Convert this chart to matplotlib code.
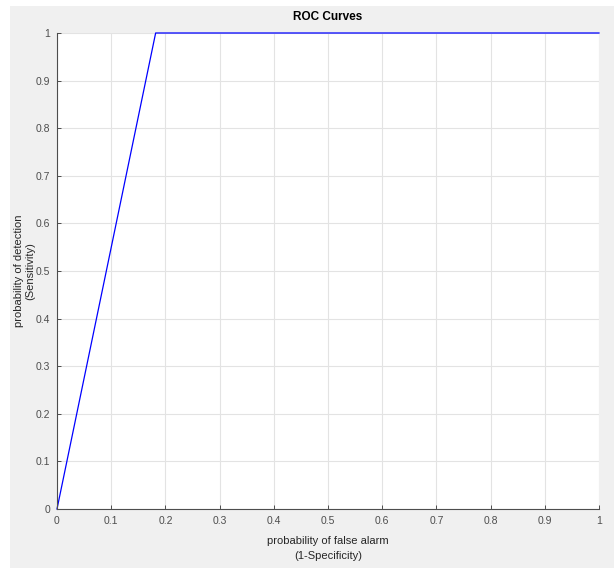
import numpy as np
import matplotlib.pyplot as plt
from matplotlib.patches import Rectangle

# curva ROC
fpr = [0.0, 0.182, 1.0]
tpr = [0.0, 1.0, 1.0]
ticks = np.arange(0, 1.01, 0.1)
tick_labels = ['0', '0.1', '0.2', '0.3', '0.4', '0.5', '0.6', '0.7', '0.8', '0.9', '1']

plt.rcParams['font.family'] = ['Liberation Sans', 'DejaVu Sans']

fig = plt.figure(figsize=(6.14, 5.68), dpi=100)
# fondo gris tipo MATLAB
fig.add_artist(Rectangle((10 / 614, 0), 1, 1 - 6 / 568, transform=fig.transFigure,
                         facecolor='#f0f0f0', edgecolor='none', zorder=-5))

ax = fig.add_axes([57 / 614, 59 / 568, 542 / 614, 476 / 568])
ax.plot(fpr, tpr, color='#0000ff', lw=0.9, clip_on=False)

ax.set_xlim(0, 1)
ax.set_ylim(0, 1)
ax.set_xticks(ticks)
ax.set_xticklabels(tick_labels)
ax.set_yticks(ticks)
ax.set_yticklabels(tick_labels)
ax.grid(True, color='#e3e3e3', lw=0.8)
ax.set_axisbelow(True)
for s in ['top', 'right']:
    ax.spines[s].set_visible(False)
for s in ['left', 'bottom']:
    ax.spines[s].set_color('#4d4d4d')
    ax.spines[s].set_linewidth(0.8)
ax.tick_params(direction='in', length=3, width=0.7, colors='#4d4d4d', labelsize=7.5, pad=5)

ax.set_title('ROC Curves', fontsize=8.5, fontweight='bold', pad=9)
ax.set_xlabel('probability of false alarm\n(1-Specificity)', fontsize=8, color='#262626',
              labelpad=7, linespacing=1.7)
ax.set_ylabel('probability of detection\n(Sensitivity)', fontsize=8, color='#262626',
              labelpad=0, multialignment='center', linespacing=1.2)

fig.savefig('out.png', dpi=100)
